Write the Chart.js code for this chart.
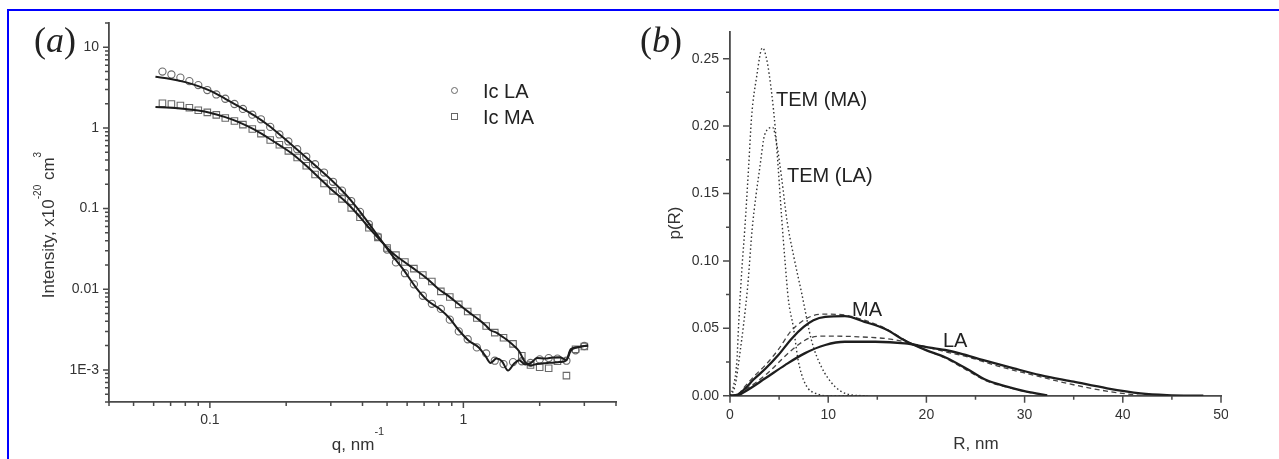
<!DOCTYPE html>
<html>
<head>
<meta charset="utf-8">
<script src="https://cdn.jsdelivr.net/npm/chart.js@4.4.1/dist/chart.umd.min.js"></script>
<style>
  body { margin: 0; background: #fff; }
  #page { position: relative; width: 1279px; height: 459px; overflow: hidden; background: #fff;
          font-family: 'Liberation Sans', Arial, sans-serif; color: #222; }
  #frame { position: absolute; left: 7px; top: 9px; width: 1300px; height: 480px;
           border-top: 2px solid #0000ff; border-left: 2px solid #0000ff; }
  .box { position: absolute; top: 0; height: 459px; }
  .lbl { position: absolute; white-space: nowrap; font-size: 20px; line-height: 20px; color: #222; }
  .ttl { position: absolute; white-space: nowrap; font-size: 17px; line-height: 17px; color: #333; }
  .sup { position: relative; font-size: 10px; }
  .pn { position: absolute; font-family: 'Liberation Serif', serif; font-size: 36px; line-height: 36px; color: #222; }
  .mk { position: absolute; width: 7px; height: 7px; box-sizing: border-box; border: 1px solid #666; }
</style>
</head>
<body>
<div id="page">
  <div id="frame"></div>

  <div class="box" style="left:0;width:640px;"><canvas id="chartA"></canvas></div>
  <div class="box" style="left:640px;width:588px;overflow:hidden;">
    <div style="position:relative;width:639px;height:459px;"><canvas id="chartB"></canvas></div>
  </div>

  <!-- panel (a) -->
  <div class="pn" style="left:34px;top:22px;">(<span style="font-style:italic">a</span>)</div>
  <div class="mk" style="left:451px;top:87px;border-radius:50%;"></div>
  <div class="lbl" style="left:483px;top:81px;">Ic LA</div>
  <div class="mk" style="left:451px;top:113px;"></div>
  <div class="lbl" style="left:483px;top:107px;">Ic MA</div>
  <div class="ttl" style="left:358px;top:436px;transform:translateX(-50%);">q, nm<span class="sup" style="top:-15px;font-size:11px;">-1</span></div>
  <div class="ttl" style="left:49px;top:225px;transform:translate(-50%,-50%) rotate(-90deg);">Intensity, x10<span class="sup" style="top:-13px;">-20</span> cm<span class="sup" style="top:-13px;">3</span></div>

  <!-- panel (b) -->
  <div class="pn" style="left:640px;top:22px;">(<span style="font-style:italic">b</span>)</div>
  <div class="lbl" style="left:776px;top:89px;">TEM (MA)</div>
  <div class="lbl" style="left:787px;top:165px;">TEM (LA)</div>
  <div class="lbl" style="left:852px;top:299px;">MA</div>
  <div class="lbl" style="left:943px;top:330px;">LA</div>
  <div class="ttl" style="left:976px;top:435px;transform:translateX(-50%);">R, nm</div>
  <div class="ttl" style="left:674px;top:223px;transform:translate(-50%,-50%) rotate(-90deg);">p(R)</div>
</div>

<script>
// ---- panel (a): scattering curves, log-log ----
const qData = [0.065, 0.0705, 0.0765, 0.083, 0.090, 0.0977, 0.106, 0.115, 0.125, 0.135, 0.147, 0.159,
  0.173, 0.188, 0.204, 0.221, 0.240, 0.260, 0.282, 0.306, 0.332, 0.361, 0.391, 0.424, 0.460, 0.500,
  0.542, 0.588, 0.638, 0.692, 0.751, 0.815, 0.884, 0.959, 1.04, 1.13, 1.23, 1.33, 1.44, 1.57, 1.70,
  1.84, 2.00, 2.17, 2.35, 2.55, 2.77, 3.00];
const iLA = [5.0, 4.6, 4.2, 3.8, 3.4, 2.95, 2.6, 2.3, 1.98, 1.72, 1.46, 1.28, 1.03, 0.83, 0.68, 0.545,
  0.44, 0.355, 0.28, 0.215, 0.167, 0.124, 0.091, 0.064, 0.045, 0.031, 0.0215, 0.0158, 0.0115, 0.0083,
  0.0066, 0.0057, 0.0042, 0.0030, 0.0024, 0.0019, 0.0016, 0.0013, 0.00118, 0.00125, 0.00128, 0.00122,
  0.00135, 0.00140, 0.00138, 0.00130, 0.00175, 0.00198];
const iMA = [2.02, 1.98, 1.90, 1.78, 1.66, 1.56, 1.45, 1.33, 1.22, 1.10, 0.97, 0.85, 0.71, 0.62, 0.52,
  0.43, 0.34, 0.265, 0.205, 0.166, 0.132, 0.102, 0.078, 0.058, 0.044, 0.0325, 0.0265, 0.0218, 0.0180,
  0.0150, 0.0125, 0.0094, 0.0080, 0.0065, 0.0053, 0.0044, 0.0035, 0.0029, 0.0025, 0.0021, 0.0015,
  0.00115, 0.00108, 0.00105, 0.00128, 0.00085, 0.00180, 0.00195];

const qFit = [0.061, 0.07, 0.08, 0.09, 0.1, 0.115, 0.13, 0.15, 0.17, 0.19, 0.21, 0.24, 0.27, 0.3, 0.34,
  0.38, 0.42, 0.47, 0.52, 0.58, 0.65, 0.72, 0.8, 0.88, 0.96, 1.05, 1.15, 1.22, 1.28, 1.35, 1.42, 1.5,
  1.58, 1.66, 1.75, 1.85, 1.95, 2.1, 2.25, 2.4, 2.55, 2.65, 2.8, 3.1];
const fitLA = [4.3, 4.05, 3.7, 3.3, 2.9, 2.3, 1.85, 1.42, 1.08, 0.81, 0.62, 0.43, 0.31, 0.23, 0.155,
  0.103, 0.068, 0.042, 0.027, 0.0175, 0.0105, 0.0073, 0.0058, 0.0044, 0.0031, 0.0023, 0.0019, 0.0015,
  0.00122, 0.00138, 0.00128, 0.00098, 0.00118, 0.00132, 0.00117, 0.00122, 0.0014, 0.00138, 0.00142,
  0.00143, 0.00133, 0.00172, 0.0019, 0.00201];
const fitMA = [1.82, 1.78, 1.72, 1.64, 1.54, 1.36, 1.18, 0.95, 0.75, 0.6, 0.485, 0.34, 0.24, 0.175, 0.125,
  0.087, 0.06, 0.0405, 0.029, 0.0222, 0.0172, 0.0135, 0.01, 0.0081, 0.0065, 0.0052, 0.0042, 0.0036,
  0.0031, 0.0029, 0.0026, 0.0023, 0.002, 0.0017, 0.00125, 0.00114, 0.00118, 0.00121, 0.00123, 0.00125,
  0.00132, 0.0018, 0.0019, 0.00201];

const qTicks = [0.04, 0.05, 0.06, 0.07, 0.08, 0.09, 0.1, 0.2, 0.3, 0.4, 0.5, 0.6, 0.7, 0.8, 0.9, 1, 2, 3, 4];
const qLabels = ['', '', '', '', '', '', '0.1', '', '', '', '', '', '', '', '', '1', '', '', ''];
const iMajor = [0.001, 0.01, 0.1, 1, 10];
const iMajorLabels = ['1E-3', '0.01', '0.1', '1', '10'];

// minor ticks 2..9 in every decade between 4E-4 and 20
const iTicks = [];
[0.0001, 0.001, 0.01, 0.1, 1, 10].forEach(d => {
  for (let m = 1; m <= 9; m++) {
    const v = d * m;
    if (v >= 0.0004 - 1e-12 && v <= 20 + 1e-9) iTicks.push(v);
  }
});
const iLabels = iTicks.map(v => {
  const k = iMajor.findIndex(m => Math.abs(v / m - 1) < 1e-6);
  return k >= 0 ? iMajorLabels[k] : '';
});

// ---- panel (b): size distributions ----
const rTemMA = [0, 0.35, 0.7, 0.9, 1.2, 1.5, 1.9, 2.2, 2.7, 3.3, 3.75, 4.25, 4.6, 4.9, 5.25, 5.6, 5.95,
  6.45, 6.95, 7.65, 9.0, 10, 14];
const pTemMA = [0, 0.007, 0.026, 0.056, 0.093, 0.123, 0.170, 0.207, 0.236, 0.258, 0.249, 0.224, 0.199,
  0.170, 0.133, 0.100, 0.071, 0.051, 0.026, 0.009, 0.001, 0, 0];
const rTemLA = [0, 0.5, 1.0, 1.8, 2.25, 3.05, 3.55, 4.35, 4.75, 5.25, 5.8, 6.5, 7.3, 8.3, 9.3, 10.7, 12.4, 14];
const pTemLA = [0, 0.007, 0.031, 0.081, 0.123, 0.170, 0.194, 0.199, 0.187, 0.162, 0.130, 0.103, 0.076,
  0.041, 0.0215, 0.0067, 0.0005, 0];

const rMA = [0, 0.8, 1.5, 2.4, 3.6, 4.9, 6.3, 7.5, 8.5, 9.7, 11.7, 13.7, 15.8, 17.8, 19.9, 21.9, 24.1,
  26.1, 28.2, 30.2, 32.3];
const pMA = [0, 0.0008, 0.005, 0.012, 0.020, 0.030, 0.0425, 0.051, 0.056, 0.0585, 0.059, 0.0548, 0.0495,
  0.041, 0.034, 0.0285, 0.020, 0.0116, 0.0067, 0.003, 0.0003];
const rMAfit = [0, 0.8, 1.5, 2.4, 3.6, 4.9, 6.3, 8.3, 9.7, 11.7, 13.7, 15.8, 17.8, 19.9, 21.9, 24.1, 26.1,
  28.2, 30.2, 32.3];
const pMAfit = [0, 0.001, 0.0067, 0.014, 0.0227, 0.034, 0.0487, 0.059, 0.0605, 0.0598, 0.056, 0.050,
  0.0413, 0.034, 0.028, 0.019, 0.011, 0.0064, 0.0028, 0.0003];

const rLA = [0, 0.6, 1.5, 3.6, 5.6, 7.6, 9.7, 11.7, 14.8, 17.8, 19.9, 21.9, 23.4, 25.8, 28.9, 31.6, 35.0,
  38.4, 41.8, 44.5, 48.2];
const pLA = [0, 0, 0.003, 0.0129, 0.0227, 0.0314, 0.0376, 0.040, 0.040, 0.0388, 0.0363, 0.0339, 0.0314,
  0.0264, 0.0203, 0.0153, 0.0104, 0.0055, 0.0018, 0.0005, 0];
const rLAfit = [0, 0.5, 1.5, 3.6, 6.3, 8.0, 9.7, 13.1, 16.5, 19.2, 21.9, 24.1, 27.5, 30.9, 34.3, 37.7, 40.4, 42];
const pLAfit = [0, 0.0003, 0.0042, 0.0153, 0.0339, 0.0425, 0.0442, 0.0437, 0.0418, 0.0376, 0.0326, 0.029,
  0.0215, 0.0153, 0.0092, 0.0042, 0.0013, 0];

const rTicks = [0, 5, 10, 15, 20, 25, 30, 35, 40, 45, 50];
const rLabels = ['0', '', '10', '', '20', '', '30', '', '40', '', '50'];
const pTicks = [0, 0.025, 0.05, 0.075, 0.1, 0.125, 0.15, 0.175, 0.2, 0.225, 0.25];
const pLabels = ['0.00', '', '0.05', '', '0.10', '', '0.15', '', '0.20', '', '0.25'];

// ---- shared setup ----
Chart.defaults.font.family = "'Liberation Sans', Arial, sans-serif";
Chart.defaults.font.size = 14;
Chart.defaults.color = '#333';
const axisColor = '#4a4a4a';

const pts = (xs, ys) => xs.map((x, i) => ({ x, y: ys[i] }));

// draws outward tick marks, long for labelled ticks and short for the rest
const tickMarks = {
  id: 'tickMarks',
  afterDraw(chart, args, opts) {
    const ctx = chart.ctx;
    const xs = chart.scales.x, ys = chart.scales.y;
    ctx.save();
    ctx.strokeStyle = opts.color;
    ctx.lineWidth = opts.width;
    ctx.beginPath();
    xs.ticks.forEach(t => {
      const px = xs.getPixelForValue(t.value);
      ctx.moveTo(px, xs.top);
      ctx.lineTo(px, xs.top + (t.major ? opts.major : opts.minor));
    });
    ys.ticks.forEach(t => {
      const py = ys.getPixelForValue(t.value);
      ctx.moveTo(ys.right, py);
      ctx.lineTo(ys.right - (t.major ? opts.major : opts.minor), py);
    });
    ctx.stroke();
    ctx.restore();
  }
};

function axis(type, min, max, ticks, labels, size, isX, pad) {
  return {
    type, min, max,
    grid: { display: false, drawTicks: false },
    border: { display: true, color: axisColor, width: 1.8 },
    ticks: { autoSkip: false, maxRotation: 0, padding: pad, color: '#333', callback: (v, i) => labels[i] },
    afterBuildTicks: s => { s.ticks = ticks.map((v, i) => ({ value: v, major: labels[i] !== '' })); },
    afterFit: s => { if (isX) s.height = size; else s.width = size; }
  };
}

const fitLine = { showLine: true, pointRadius: 0, borderColor: '#1c1c1c', borderWidth: 2,
  cubicInterpolationMode: 'monotone' };
const marker = { showLine: false, pointRadius: 3.6, borderColor: '#6a6a6a', backgroundColor: 'rgba(255,255,255,0)',
  pointBorderWidth: 1.1 };

new Chart(document.getElementById('chartA'), {
  type: 'scatter',
  data: {
    datasets: [
      { ...fitLine, data: pts(qFit, fitLA) },
      { ...fitLine, data: pts(qFit, fitMA) },
      { ...marker, label: 'Ic LA', pointStyle: 'circle', data: pts(qData, iLA) },
      { ...marker, label: 'Ic MA', pointStyle: 'rect', pointRadius: 4.6, data: pts(qData, iMA) }
    ]
  },
  options: {
    responsive: true,
    maintainAspectRatio: false,
    animation: false,
    devicePixelRatio: 1,
    layout: { padding: { top: 23, right: 24, left: 0, bottom: 0 } },
    scales: {
      x: axis('logarithmic', 0.04, 4, qTicks, qLabels, 57, true, 10),
      y: axis('logarithmic', 0.0004, 20, iTicks, iLabels, 109, false, 10)
    },
    plugins: {
      legend: { display: false },
      tooltip: { enabled: false },
      tickMarks: { color: axisColor, width: 1.5, major: 6, minor: 4 }
    }
  },
  plugins: [tickMarks]
});

const solid = { showLine: true, pointRadius: 0, borderColor: '#1e1e1e', borderWidth: 2.3,
  cubicInterpolationMode: 'monotone' };
const dashed = { ...solid, borderColor: '#444', borderWidth: 1.3, borderDash: [5, 3.5] };
const dotted = { ...solid, borderColor: '#333', borderWidth: 1.4, borderDash: [1.5, 2.5] };

new Chart(document.getElementById('chartB'), {
  type: 'scatter',
  data: {
    datasets: [
      { ...solid, label: 'MA', data: pts(rMA, pMA) },
      { ...solid, label: 'LA', data: pts(rLA, pLA) },
      { ...dashed, data: pts(rMAfit, pMAfit) },
      { ...dashed, data: pts(rLAfit, pLAfit) },
      { ...dotted, label: 'TEM (MA)', data: pts(rTemMA, pTemMA) },
      { ...dotted, label: 'TEM (LA)', data: pts(rTemLA, pTemLA) }
    ]
  },
  options: {
    responsive: true,
    maintainAspectRatio: false,
    animation: false,
    devicePixelRatio: 1,
    layout: { padding: { top: 31.7, right: 58, left: 0, bottom: 0 } },
    scales: {
      x: axis('linear', 0, 50, rTicks, rLabels, 63.3, true, 11),
      y: axis('linear', 0, 0.27, pTicks, pLabels, 90, false, 11)
    },
    plugins: {
      legend: { display: false },
      tooltip: { enabled: false },
      tickMarks: { color: axisColor, width: 1.5, major: 7, minor: 4 }
    }
  },
  plugins: [tickMarks]
});
</script>
</body>
</html>
